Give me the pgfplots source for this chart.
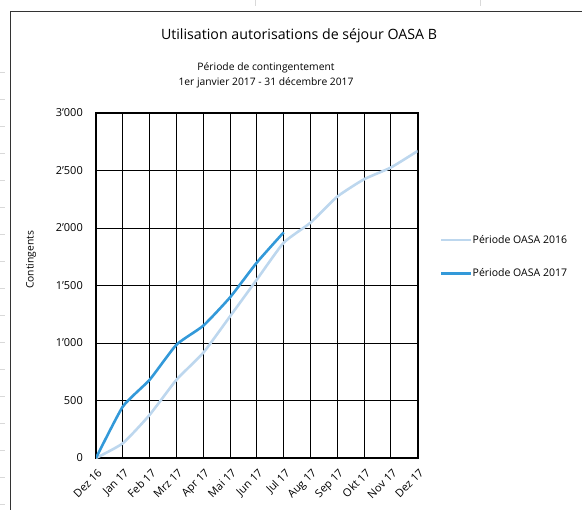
\documentclass[border=0pt]{standalone}
\usepackage{fontspec}
\setmainfont{Open Sans}
\usepackage{pgfplots}
\pgfplotsset{compat=1.18}
\definecolor{light}{HTML}{BDD7EE}
\definecolor{dark}{HTML}{3399D9}
\begin{document}
\begin{tikzpicture}[x=1bp,y=-1bp]
\path[use as bounding box] (0,0) rectangle (582,510);
\draw[line width=1bp, black!80] (10,510) -- (10,12) -- (582,12);
\foreach \yy in {72,99,126,153,180,207,234,261,288,315,342,369,396,423,450,477,504}{\draw[black!15,line width=0.6bp] (0,\yy) -- (5,\yy);}
\foreach \xx in {255,480}{\draw[black!15,line width=0.6bp] (\xx,0) -- (\xx,6);}
\node[font=\fontsize{14.2bp}{17bp}\selectfont] at (299,36) {Utilisation autorisations de séjour OASA B};
\node[font=\fontsize{10.3bp}{15bp}\selectfont, align=center] at (266,75) {Période de contingentement\\1er janvier 2017 - 31 décembre 2017};
\node[font=\fontsize{10.3bp}{12bp}\selectfont, rotate=90] at (31,260) {Contingents};
\begin{axis}[
  at={(96bp,-458bp)}, anchor=origin,
  scale only axis, width=321.7bp, height=345bp,
  xmin=0, xmax=12, ymin=0, ymax=3000,
  xtick={0,...,12},
  xticklabels={Dez 16,Jan 17,Feb 17,Mrz 17,Apr 17,Mai 17,Jun 17,Jul 17,Aug 17,Sep 17,Okt 17,Nov 17,Dez 17},
  ytick={0,500,1000,1500,2000,2500,3000},
  yticklabels={0,500,1'000,1'500,2'000,2'500,3'000},
  major tick length=0pt,
  grid=major,
  major grid style={black, line width=0.9bp},
  axis line style={black, line width=1.8bp},
  tick label style={font=\fontsize{11bp}{13bp}\selectfont},
  xticklabel style={yshift=-10bp, xshift=1bp, rotate=45, anchor=north east, inner sep=0pt},
  yticklabel style={inner sep=0pt, xshift=-13bp},
  legend cell align=left,
  legend style={draw=none, at={(1.069,0.632)}, anchor=north west, font=\fontsize{10.5bp}{12bp}\selectfont, row sep=20bp, inner sep=0pt, yshift=7bp, nodes={inner xsep=0pt}},
  legend image code/.code={\draw[#1] (0,0) -- (30bp,0);},
]
\addplot[light, line width=2.6bp, smooth, tension=0.3] coordinates {(0,0) (1,128) (2,375) (3,680) (4,915) (5,1232) (6,1552) (7,1872) (8,2046) (9,2273) (10,2424) (11,2526) (12,2670)};
\addlegendentry{Période OASA 2016}
\addplot[dark, line width=2.6bp, smooth, tension=0.3] coordinates {(0,0) (1,447) (2,680) (3,985) (4,1150) (5,1397) (6,1700) (7,1962)};
\addlegendentry{Période OASA 2017}
\end{axis}
\end{tikzpicture}
\end{document}
